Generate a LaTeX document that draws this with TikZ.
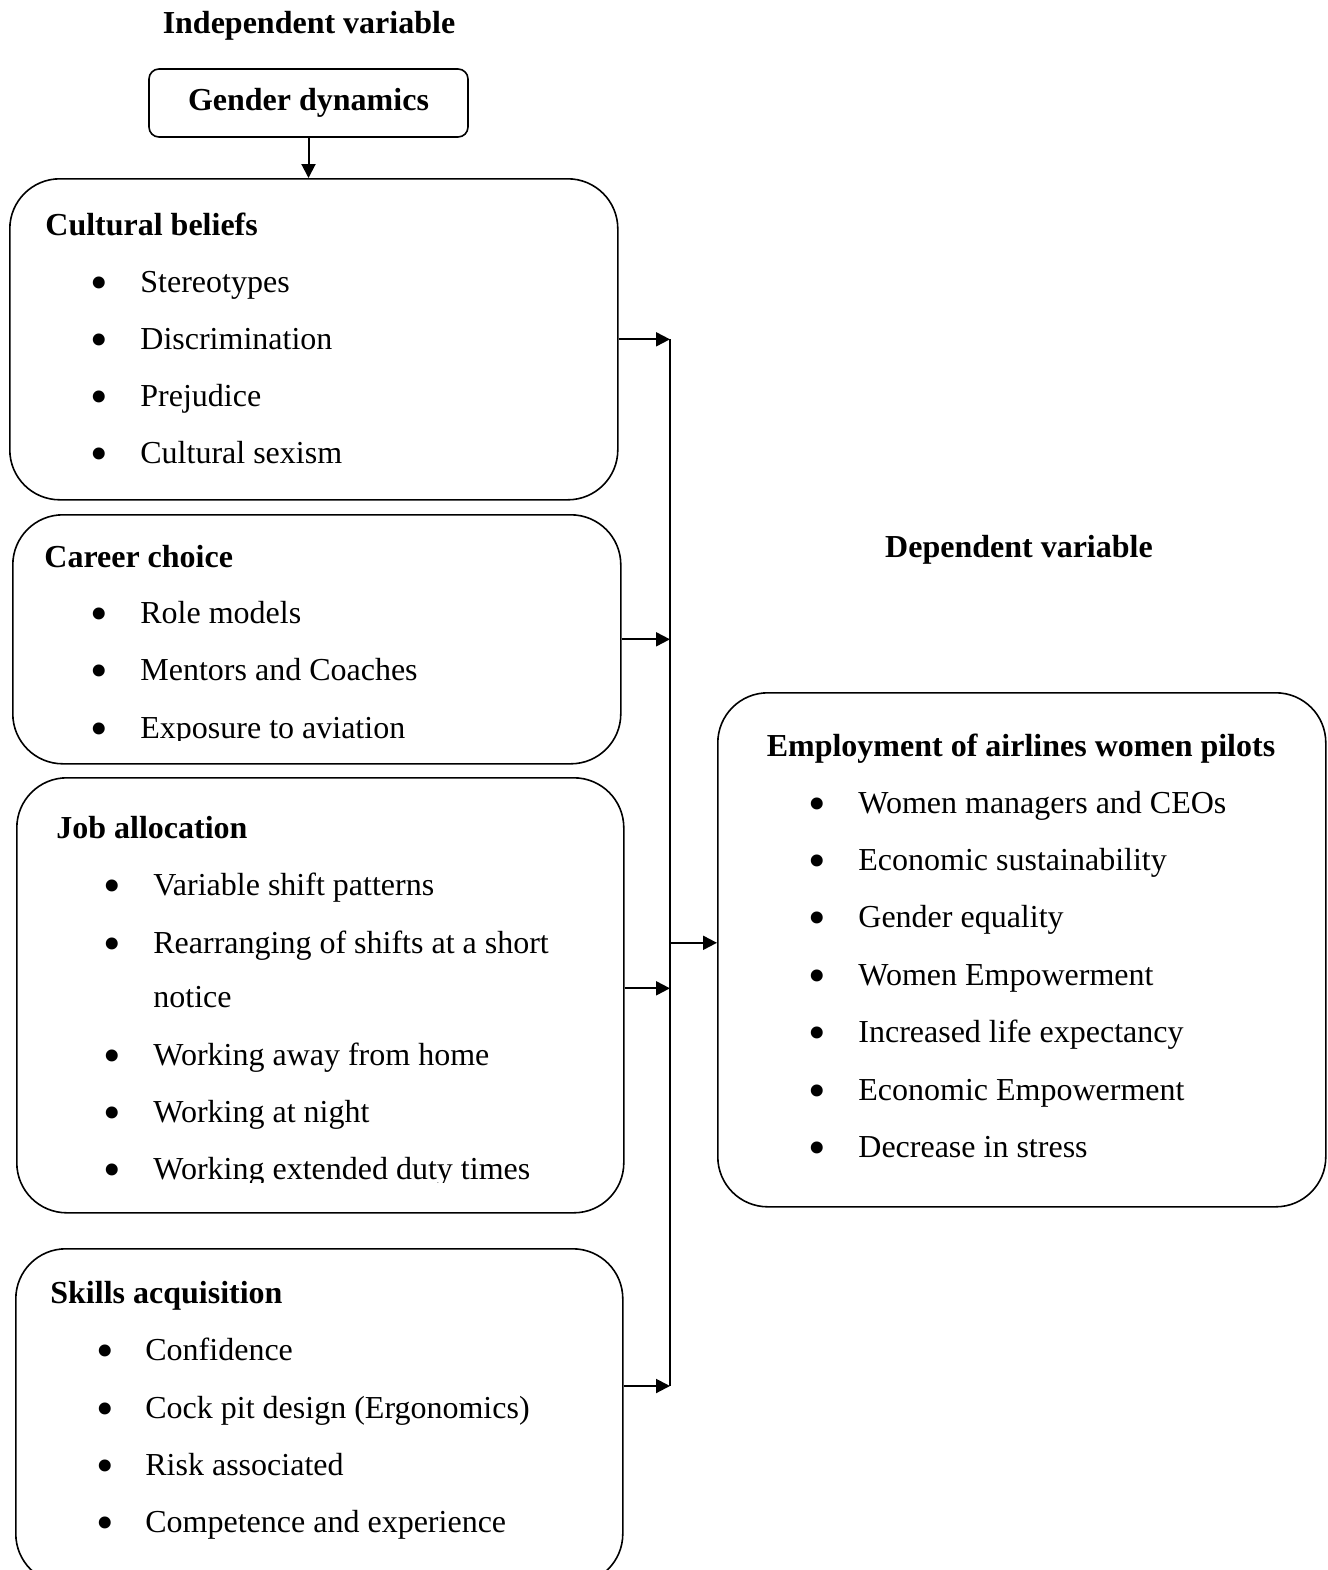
\documentclass[tikz,border=0pt]{standalone}
\usepackage{fontspec}
\setmainfont{Liberation Serif}
\usetikzlibrary{arrows.meta,positioning}
\tikzset{
  panel/.style={draw, line width=0.8pt, rounded corners=25pt, anchor=north west, inner sep=0pt},
  tagbox/.style={draw, line width=0.8pt, rounded corners=5pt, minimum width=159.5pt,
    minimum height=34pt, font=\bfseries\fontsize{16}{19}\selectfont},
  head/.style={font=\bfseries\fontsize{16}{19}\selectfont, anchor=base west, inner sep=0pt},
  title/.style={font=\bfseries\fontsize{16}{19}\selectfont, anchor=base, inner sep=0pt},
  itm/.style={font=\fontsize{16}{19}\selectfont, anchor=base west, inner sep=0pt},
  dot/.style={font=\fontsize{25}{25}\selectfont, anchor=base, inner sep=0pt, yshift=-3.5pt},
  link/.style={-{Triangle[length=7pt,width=7pt]}, line width=1pt},
}
\begin{document}
\begin{tikzpicture}[x=0.5pt, y=-0.5pt]
  \useasboundingbox (0,0) rectangle (1328,1570);

  % independent side
  \node[title] (indep) at (309,33) {Independent variable};
  \node[tagbox] (gen) at (308.5,103) {Gender dynamics};

  \node[panel, minimum width=304pt, minimum height=160.5pt] (cult) at (9,178) {};
  \node[head] (cultH) at (45,235) {Cultural beliefs};
  \node[dot] (cultB1) at (99,292) {•};
  \node[itm] (cultT1) at (140,292) {Stereotypes};
  \node[dot] (cultB2) at (99,349) {•};
  \node[itm] (cultT2) at (140,349) {Discrimination};
  \node[dot] (cultB3) at (99,406) {•};
  \node[itm] (cultT3) at (140,406) {Prejudice};
  \node[dot] (cultB4) at (99,463) {•};
  \node[itm] (cultT4) at (140,463) {Cultural sexism};

  \node[panel, minimum width=304pt, minimum height=124.5pt] (career) at (12,514) {};
  \node[head] (carH) at (44,567) {Career choice};
  \node[dot] (carB1) at (99,623) {•};
  \node[itm] (carT1) at (140,623) {Role models};
  \node[dot] (carB2) at (99,680) {•};
  \node[itm] (carT2) at (140,680) {Mentors and Coaches};
  \node[dot] (carB3) at (99,738) {•};
  \begin{scope}
    \clip (0,0) rectangle (700,740);
    \node[itm] (carT3) at (140,738) {Exposure to aviation};
  \end{scope}

  \node[panel, minimum width=303.5pt, minimum height=217.5pt] (job) at (16,777) {};
  \node[head] (jobH) at (56,838) {Job allocation};
  \node[dot] (jobB1) at (112,895) {•};
  \node[itm] (jobT1) at (153,895) {Variable shift patterns};
  \node[dot] (jobB2) at (112,953) {•};
  \node[itm] (jobT2) at (153,953) {Rearranging of shifts at a short};
  \node[itm] (jobT2b) at (153,1007) {notice};
  \node[dot] (jobB3) at (112,1065) {•};
  \node[itm] (jobT3) at (153,1065) {Working away from home};
  \node[dot] (jobB4) at (112,1122) {•};
  \node[itm] (jobT4) at (153,1122) {Working at night};
  \node[dot] (jobB5) at (112,1179) {•};
  \begin{scope}
    \clip (0,0) rectangle (700,1182);
    \node[itm] (jobT5) at (153,1179) {Working extended duty times};
  \end{scope}

  \node[panel, minimum width=303.5pt, minimum height=167.5pt] (skill) at (15,1248) {};
  \node[head] (sklH) at (50,1303) {Skills acquisition};
  \node[dot] (sklB1) at (105,1360) {•};
  \node[itm] (sklT1) at (145,1360) {Confidence};
  \node[dot] (sklB2) at (105,1418) {•};
  \node[itm] (sklT2) at (145,1418) {Cock pit design (Ergonomics)};
  \node[dot] (sklB3) at (105,1475) {•};
  \node[itm] (sklT3) at (145,1475) {Risk associated};
  \node[dot] (sklB4) at (105,1532) {•};
  \node[itm] (sklT4) at (145,1532) {Competence and experience};

  % dependent side
  \node[title] (depend) at (1019,557) {Dependent variable};
  \node[panel, minimum width=304pt, minimum height=257pt] (dep) at (717,692) {};
  \node[title] (depH) at (1021,756) {Employment of airlines women pilots};
  \node[dot] (depB1) at (817,813) {•};
  \node[itm] (depT1) at (858,813) {Women managers and CEOs};
  \node[dot] (depB2) at (817,870) {•};
  \node[itm] (depT2) at (858,870) {Economic sustainability};
  \node[dot] (depB3) at (817,927) {•};
  \node[itm] (depT3) at (858,927) {Gender equality};
  \node[dot] (depB4) at (817,985) {•};
  \node[itm] (depT4) at (858,985) {Women Empowerment};
  \node[dot] (depB5) at (817,1042) {•};
  \node[itm] (depT5) at (858,1042) {Increased life expectancy};
  \node[dot] (depB6) at (817,1100) {•};
  \node[itm] (depT6) at (858,1100) {Economic Empowerment};
  \node[dot] (depB7) at (817,1157) {•};
  \node[itm] (depT7) at (858,1157) {Decrease in stress};

  % connectors
  \coordinate (bustop) at (670,339);
  \coordinate (busbot) at (670,1386);
  \draw[link] (gen.south) -- (gen.south |- cult.north);
  \draw[line width=1pt] (bustop) -- (busbot);
  \draw[link] (cult.east) -- (cult.east -| bustop);
  \draw[link] (career.east) -- (career.east -| bustop);
  \draw[link] ([yshift=3.5pt]job.east) -- ([yshift=3.5pt]job.east -| bustop);
  \draw[link] (skill.east |- busbot) -- (busbot);
  \draw[link] ([yshift=3.5pt]dep.west -| bustop) -- ([yshift=3.5pt]dep.west);
\end{tikzpicture}
\end{document}
